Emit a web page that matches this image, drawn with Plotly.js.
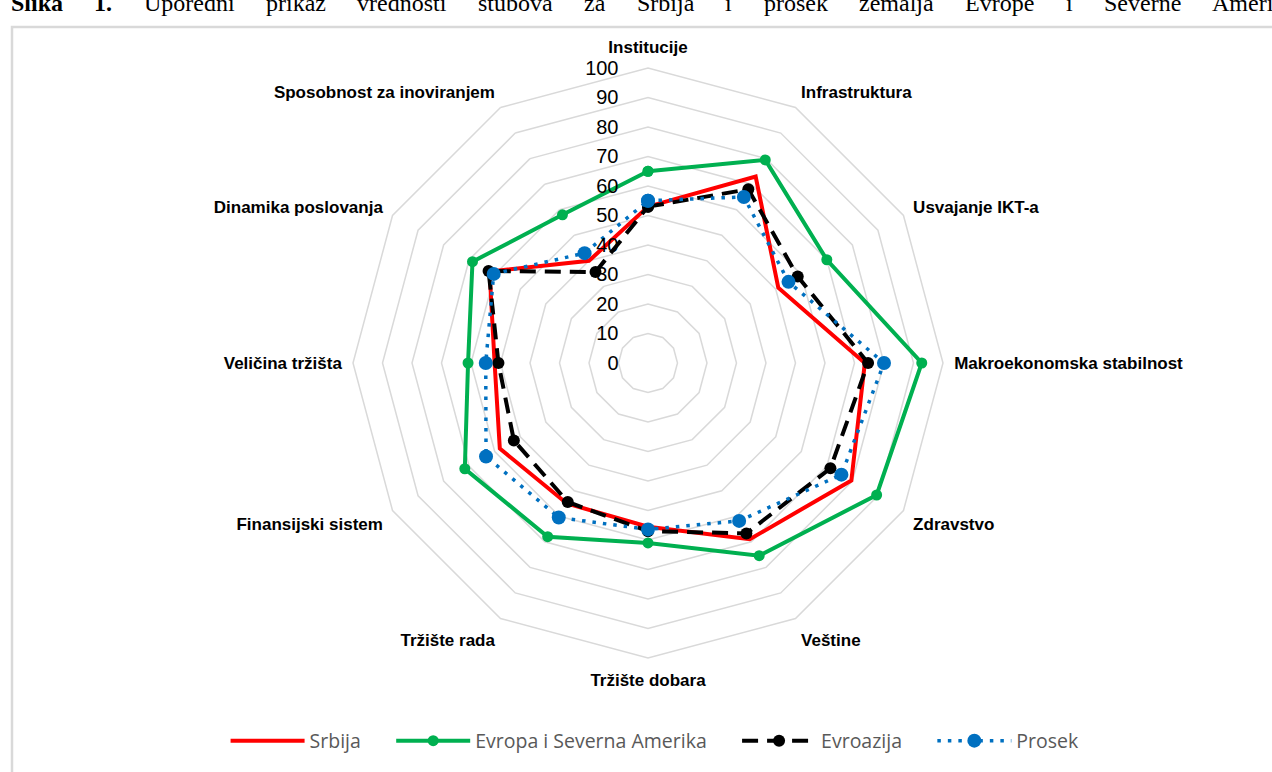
<!DOCTYPE html>
<html>
<head>
<meta charset="utf-8">
<script src="https://cdn.plot.ly/plotly-3.0.1.min.js"></script>
<style>html,body{margin:0;padding:0;background:#fff;}#chart{width:1272px;height:772px;}</style>
</head>
<body>
<div id="chart"></div>
<script>
const categories = ["Institucije","Infrastruktura","Usvajanje IKT-a","Makroekonomska stabilnost","Zdravstvo","Veštine","Tržište dobara","Tržište rada","Finansijski sistem","Veličina tržišta","Dinamika poslovanja","Sposobnost za inoviranjem"];
const srbija    = [53, 73, 51, 73.5, 79.6, 69, 55.5, 55, 58, 52, 62, 40];
const evropa    = [65, 79.5, 70, 92.8, 89.5, 75.4, 61, 68, 71.7, 61, 68.7, 58];
const evroazija = [53, 68, 58.6, 74.6, 71.4, 66.7, 57, 54.4, 52.5, 50.7, 62.4, 35.6];
const prosek    = [55, 65, 55, 80, 75.7, 61.8, 56.4, 60.5, 63.4, 55, 60.4, 43];
const seriesNames = ["Srbija","Evropa i Severna Amerika","Evroazija","Prosek"];
const radialTicks = [0,10,20,30,40,50,60,70,80,90,100];
const titleWords = ["<b>Slika</b>","<b>1.</b>","Uporedni","prikaz","vrednosti","stubova","za","Srbija","i","prosek","zemalja","Evrope","i","Severne","Amerike"];
const titleWordX = [10,93,143,265,356,477,583,636,724,763,858,964,1065,1103,1211];

function closed(a){ return a.concat([a[0]]); }
const theta = closed(categories);
const pad = '\u00a0\u00a0\u00a0\u00a0\u00a0';

const traces = [
  {type:'scatterpolar', name:seriesNames[0] + pad, r:closed(srbija), theta:theta, mode:'lines',
   line:{color:'#FF0000', width:4}},
  {type:'scatterpolar', name:seriesNames[1] + pad, r:closed(evropa), theta:theta, mode:'lines+markers',
   line:{color:'#00B050', width:4}, marker:{color:'#00B050', size:11}},
  {type:'scatterpolar', name:seriesNames[2] + pad, r:closed(evroazija), theta:theta, mode:'lines+markers',
   line:{color:'#000000', width:4, dash:'16px,9px'}, marker:{color:'#000000', size:12}},
  {type:'scatterpolar', name:seriesNames[3], r:closed(prosek), theta:theta, mode:'lines+markers',
   line:{color:'#0070C0', width:3.5, dash:'3.5px,7px'}, marker:{color:'#0070C0', size:14}}
];

const W = 1272, H = 772;
const cx = 648, cy = 363, R = 295;
const titleFont = {family:'Liberation Serif, Times New Roman, serif', size:24, color:'#000'};

const annotations = titleWords.map((w,i)=>({
  xref:'paper', yref:'paper', x:titleWordX[i]/W, y:(H-2.5)/H, xanchor:'left', yanchor:'middle',
  showarrow:false, text:w, font:titleFont, borderpad:0
}));

const layout = {
  width:W, height:H, autosize:false,
  margin:{l:0,r:0,t:0,b:0},
  paper_bgcolor:'#fff',
  showlegend:true,
  legend:{orientation:'h', x:0.515, xanchor:'center', y:(H-741)/H, yanchor:'middle',
    font:{family:'Open Sans, sans-serif', size:19.5, color:'#595959'}, itemwidth:74, traceorder:'normal'},
  polar:{
    domain:{x:[(cx-R)/W,(cx+R)/W], y:[(H-cy-R)/H,(H-cy+R)/H]},
    gridshape:'linear',
    bgcolor:'rgba(0,0,0,0)',
    radialaxis:{range:[0,100], tickvals:radialTicks, angle:90, side:'counterclockwise',
      showline:false, ticks:'outside', ticklen:22, tickcolor:'rgba(0,0,0,0)',
      gridcolor:'#d9d9d9', gridwidth:1.5, tickangle:90,
      tickfont:{family:'Liberation Sans, Arial, sans-serif', size:20, color:'#000'}},
    angularaxis:{rotation:90, direction:'clockwise', showgrid:false, showline:true,
      linecolor:'#d9d9d9', linewidth:1.5, ticks:'outside', ticklen:7, tickcolor:'rgba(0,0,0,0)',
      tickfont:{family:'Liberation Sans, Arial, sans-serif', size:17, color:'#000', weight:'bold'}}
  },
  shapes:[{type:'rect', xref:'paper', yref:'paper', x0:12/W, x1:1.05, y0:-0.05, y1:(H-27)/H,
    line:{color:'#d9d9d9', width:2.5}, fillcolor:'rgba(0,0,0,0)', layer:'below'}],
  annotations:annotations
};

Plotly.newPlot('chart', traces, layout, {displayModeBar:false, staticPlot:true});
</script>
</body>
</html>
